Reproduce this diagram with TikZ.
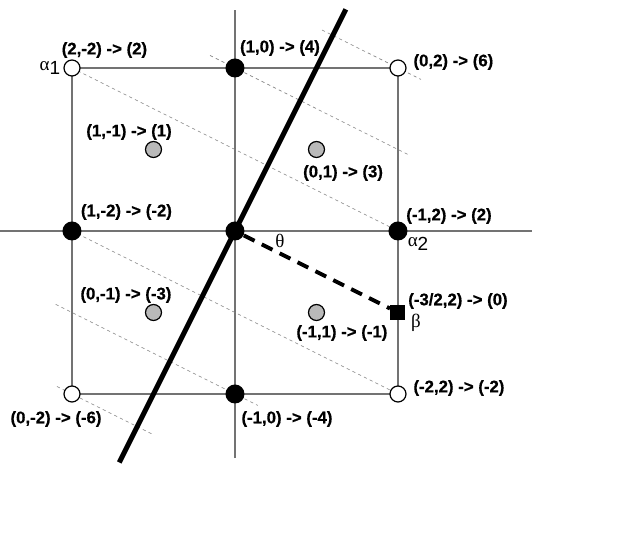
\documentclass[tikz,border=0pt]{standalone}
\usepackage{fontspec}
\setmainfont{Liberation Sans}
\newfontfamily\labfont{Liberation Sans Bold}[FakeBold=0.6]
\newfontfamily\greekfont{Liberation Serif}
\begin{document}
\begin{tikzpicture}[x=81.5pt, y=81.5pt, >=stealth, font=\fontsize{8.4}{10}\labfont, line join=round]
			\tikzset{gridline/.style={gray!90!black, line width=0.55pt},
			levelline/.style={gray, line width=0.3pt, dash pattern=on 1.6pt off 1.6pt},
			fulldot/.style={circle, fill=black, inner sep=0pt, minimum size=9.5pt},
			opendot/.style={circle, draw=black, fill=white, line width=0.6pt, inner sep=0pt, minimum size=8pt},
			graydot/.style={circle, draw=black, fill=gray!55, line width=0.6pt, inner sep=0pt, minimum size=8pt},
			lab/.style={inner sep=0pt},
			greek/.style={inner sep=0pt, font=\fontsize{9.5}{10}\greekfont}}
			\useasboundingbox (-1.4417,-1.8712) rectangle (2.3804,1.4172);
			% axes and cell
			\draw[gridline] (-1.4417,0)--(1.822,0);
			\draw[gridline] (0,-1.393)--(0,1.356);
			\draw[gridline] (-1,-1) rectangle (1,1);
			% level lines
			\draw[levelline] (0.534,1.233)--(1.141,0.93)
			(-0.153,1.077)--(1.06,0.47)
			(-1,1)--(1,0)
			(-1,0)--(1,-1)
			(-1.10,-0.45)--(0.14,-1.07)
			(-1.092,-0.954)--(-0.50,-1.25);
			% thick line and dashed beta
			\draw[line width=2.5pt] (-0.71,-1.42)--(0.68,1.36);
			\node[fill=black, inner sep=0pt, minimum size=7.5pt] (b) at (1,-0.5) {};
			\node[fulldot] (o) at (0,0) {};
			\draw[line width=2pt, dash pattern=on 6pt off 4pt] (o)--(b);
			% lattice points
			\node[opendot] (a1) at (-1,1) {};
			\node[opendot] (p02) at (1,1) {};
			\node[opendot] (p0m2) at (-1,-1) {};
			\node[opendot] (p22) at (1,-1) {};
			\node[fulldot] (p10) at (0,1) {};
			\node[fulldot] (p1m2) at (-1,0) {};
			\node[fulldot] (a2) at (1,0) {};
			\node[fulldot] (pm10) at (0,-1) {};
			\node[graydot] (p1m1) at (-0.5,0.5) {};
			\node[graydot] (p01) at (0.5,0.5) {};
			\node[graydot] (p0m1) at (-0.5,-0.5) {};
			\node[graydot] (pm11) at (0.5,-0.5) {};
			% labels
			\node[lab] at (-0.801,1.110) {(2,-2) -> (2)};
			\node[lab] at (0.276,1.123) {(1,0) -> (4)};
			\node[lab] at (1.340,1.037) {(0,2) -> (6)};
			\node[lab] at (-0.650,0.607) {(1,-1) -> (1)};
			\node[lab] at (0.663,0.356) {(0,1) -> (3)};
			\node[lab] at (-0.666,0.117) {(1,-2) -> (-2)};
			\node[lab] at (1.313,0.092) {(-1,2) -> (2)};
			\node[lab] at (1.368,-0.429) {(-3/2,2) -> (0)};
			\node[lab] at (-0.669,-0.393) {(0,-1) -> (-3)};
			\node[lab] at (0.656,-0.626) {(-1,1) -> (-1)};
			\node[lab] at (-1.098,-1.153) {(0,-2) -> (-6)};
			\node[lab] at (0.319,-1.153) {(-1,0) -> (-4)};
			\node[lab] at (1.374,-0.963) {(-2,2) -> (-2)};
			\node[greek] at (-1.135,1.0) {α\raisebox{-0.45ex}{\fontsize{9.5}{10}\rmfamily 1}};
			\node[greek] at (1.123,-0.080) {α\raisebox{-0.45ex}{\fontsize{9.5}{10}\rmfamily 2}};
			\node[greek] at (0.276,-0.061) {θ};
			\node[greek] at (1.110,-0.564) {β};
			\end{tikzpicture}
\end{document}
